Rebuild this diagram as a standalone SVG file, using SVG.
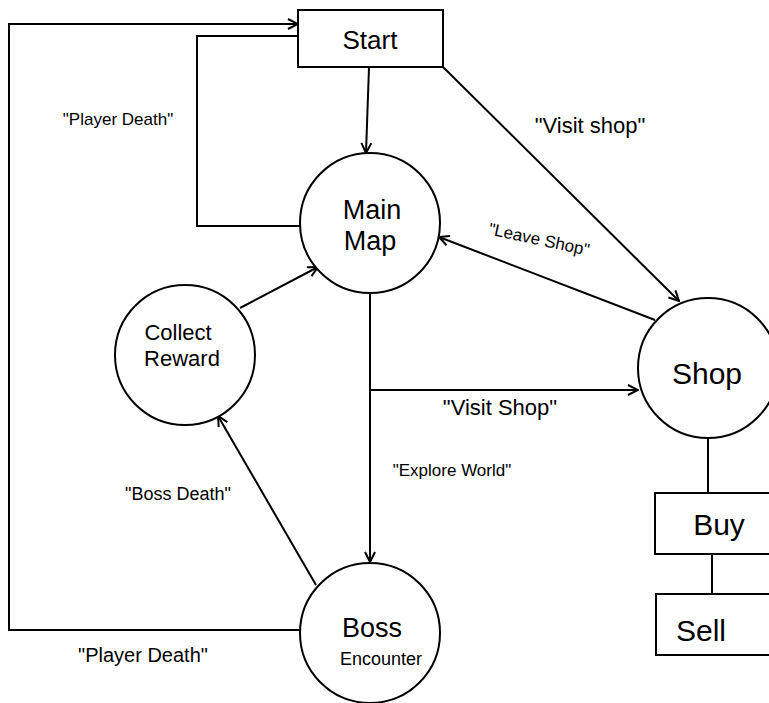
<svg xmlns="http://www.w3.org/2000/svg" width="769" height="703" viewBox="0 0 769 703">
<style>
.node{fill:#fff;stroke:#000;stroke-width:2}
.edge{fill:none;stroke:#000;stroke-width:2}
.t{font-family:"Liberation Sans","DejaVu Sans",sans-serif;fill:#000;text-anchor:middle}
</style>
<defs>
<marker id="arr" viewBox="0 0 12 12" refX="11" refY="6" markerWidth="12" markerHeight="12" markerUnits="userSpaceOnUse" orient="auto-start-reverse">
<path d="M1,1 L11,6 L1,11" fill="none" stroke="#000" stroke-width="2"/>
</marker>
</defs>
<rect width="769" height="703" fill="#fff"/>
<g id="connectors">
<path class="edge" d="M298,24 L9,24 L9,630 L300,630" marker-start="url(#arr)"/>
<path class="edge" d="M298,36 L197,36 L197,226 L300,226"/>
<path class="edge" d="M369,67 L366,153" marker-end="url(#arr)"/>
<path class="edge" d="M443,67 L679,301" marker-end="url(#arr)"/>
<path class="edge" d="M655,320 L439,237" marker-end="url(#arr)"/>
<path class="edge" d="M370,293 L370,562" marker-end="url(#arr)"/>
<path class="edge" d="M370,390 L638,390" marker-end="url(#arr)"/>
<path class="edge" d="M240,308 L318,267" marker-end="url(#arr)"/>
<path class="edge" d="M316,585 L218,416" marker-end="url(#arr)"/>
<path class="edge" d="M708,438 L708,493"/>
<path class="edge" d="M712,554 L712,593"/>
</g>
<g id="labels">
<text class="t" x="118" y="125" style="font-size:17px">"Player Death"</text>
<text class="t" x="590" y="133" style="font-size:22px">"Visit shop"</text>
<text class="t" x="538" y="245" style="font-size:17px" transform="rotate(12 538 245)">"Leave Shop"</text>
<text class="t" x="500" y="415" style="font-size:22px">"Visit Shop"</text>
<text class="t" x="452" y="476" style="font-size:17px">"Explore World"</text>
<text class="t" x="178" y="500" style="font-size:18px">"Boss Death"</text>
<text class="t" x="143" y="662" style="font-size:20px">"Player Death"</text>
</g>
<g id="start"><rect class="node" x="298" y="10" width="145" height="57"/><text class="t" x="370" y="49" style="font-size:26px">Start</text></g>
<g id="main-map"><circle class="node" cx="370" cy="223" r="70"/><text class="t" x="372" y="219" style="font-size:27px">Main</text><text class="t" x="370" y="250" style="font-size:27px">Map</text></g>
<g id="shop"><circle class="node" cx="708" cy="368" r="70"/><text class="t" x="707" y="384" style="font-size:30px">Shop</text></g>
<g id="collect-reward"><circle class="node" cx="185" cy="355" r="70"/><text class="t" x="178" y="340" style="font-size:22px">Collect</text><text class="t" x="182" y="366" style="font-size:22px">Reward</text></g>
<g id="boss-encounter"><circle class="node" cx="370" cy="633" r="70"/><text class="t" x="372" y="637" style="font-size:27px">Boss</text><text class="t" x="381" y="665" style="font-size:18px">Encounter</text></g>
<g id="buy"><rect class="node" x="655" y="493" width="130" height="61"/><text class="t" x="719" y="535" style="font-size:30px">Buy</text></g>
<g id="sell"><rect class="node" x="656" y="594" width="130" height="61"/><text class="t" x="676" y="641" style="font-size:30px;text-anchor:start">Sell</text></g>
</svg>
